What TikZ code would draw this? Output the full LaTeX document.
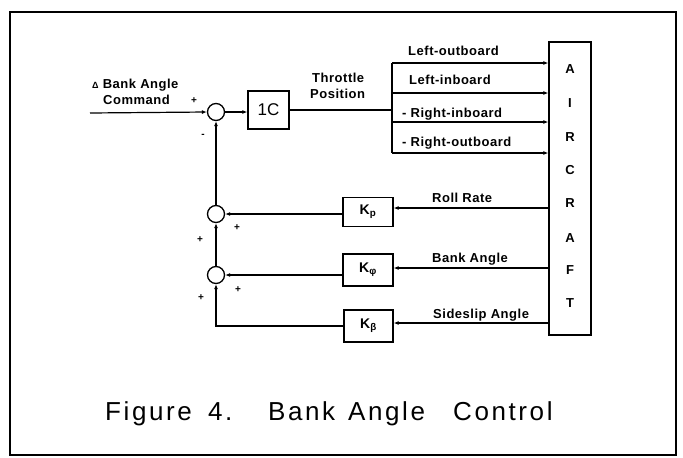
\documentclass[tikz,border=0pt]{standalone}
\usepackage{fontspec}
\setmainfont{Liberation Sans}
\newfontfamily\labfont[LetterSpace=4]{Liberation Sans}
\newfontfamily\capfont[LetterSpace=10]{Liberation Sans}
\usetikzlibrary{arrows.meta}
\begin{document}
\begin{tikzpicture}[x=1pt,y=-1pt,
  lab/.style={font=\labfont\bfseries\fontsize{13}{15}\selectfont, inner sep=0pt},
  captxt/.style={font=\capfont\fontsize{26}{29}\selectfont, inner sep=0pt, anchor=base west},
  pm/.style={font=\bfseries\fontsize{10}{11}\selectfont, inner sep=0pt},
  blk/.style={draw, line width=1.3pt, inner sep=0pt},
  sumc/.style={circle, draw, line width=1.3pt, minimum size=17pt, inner sep=0pt},
  wire/.style={line width=1.2pt},
  arr/.style={wire, -{Latex[length=5pt,width=4pt]}}]
\fill[white] (0,0) rectangle (683,458);
\useasboundingbox (0,0) rectangle (683,458);
% frame
\draw[line width=1.2pt] (10,12) rectangle (676,455);
% blocks
\node[sumc] (c1) at (216,112) {};
\node[sumc] (c2) at (216,214) {};
\node[sumc] (c3) at (216,275) {};
\node[blk, minimum width=41pt, minimum height=38pt, font=\fontsize{17}{19}\selectfont] (ctl) at (268.5,110) {1C};
\node[blk, minimum width=42pt, minimum height=293pt] (air) at (570,188.5) {};
\node[blk, minimum width=50pt, minimum height=29pt, font=\bfseries\fontsize{14}{16}\selectfont] (kp) at (368,212) {K\textsubscript{p}};
\node[blk, minimum width=50pt, minimum height=32pt, font=\bfseries\fontsize{14}{16}\selectfont] (kphi) at (368,270) {K\textsubscript{φ}};
\node[blk, minimum width=49pt, minimum height=32pt, font=\bfseries\fontsize{14}{16}\selectfont] (kbeta) at (368.5,326) {K\textsubscript{β}};
% aircraft letters
\foreach \l/\y [count=\i] in {A/69,I/103,R/137,C/170,R/203,A/238,F/270,T/303}
  \node[lab] (ac\i) at (570,\y) {\l};
% coordinates
\coordinate (in) at (90,113);
\coordinate (b1) at (392,63);
\coordinate (b2) at (392,93);
\coordinate (b3) at (392,122);
\coordinate (b4) at (392,153);
\coordinate (o1) at (549,208);
\coordinate (o2) at (549,268);
\coordinate (o3) at (549,323);
% connectors
\draw[arr] (in) -- (c1.west);
\draw[arr] (c1.east) -- (c1.east -| ctl.west);
\draw[wire] (ctl.east) -- (ctl.east -| b1);
\draw[wire] (b1) -- (b4);
\foreach \i in {1,2,3,4}
  \draw[arr] (b\i) -- (b\i -| air.west);
\draw[arr] (o1) -- (o1 -| kp.east);
\draw[arr] (o2) -- (o2 -| kphi.east);
\draw[arr] (o3) -- (o3 -| kbeta.east);
\draw[arr] (kp.west |- c2) -- (c2.east);
\draw[arr] (kphi.west |- c3) -- (c3.east);
\draw[arr] (kbeta.west) -| (c3.south);
\draw[arr] (c3.north) -- (c2.south);
\draw[arr] (c2.north) -- (c1.south);
% labels
\node[lab, anchor=base west] (tcmd1) at (92,88) {{\fontsize{9}{10}\selectfont Δ} Bank Angle};
\node[lab, anchor=base west] (tcmd2) at (103,104) {Command};
\node[lab, anchor=base west] (tthr1) at (312,82) {Throttle};
\node[lab, anchor=base west] (tthr2) at (310,98) {Position};
\node[lab, anchor=base west] (tlo) at (408,55) {Left-outboard};
\node[lab, anchor=base west] (tli) at (409,84) {Left-inboard};
\node[lab, anchor=base west] (tri) at (402,117) {- Right-inboard};
\node[lab, anchor=base west] (tro) at (402,146) {- Right-outboard};
\node[lab, anchor=base west] (troll) at (432,202.5) {Roll Rate};
\node[lab, anchor=base west] (tbank) at (432,262) {Bank Angle};
\node[lab, anchor=base west] (tside) at (433,318) {Sideslip Angle};
% signs
\node[pm] (s1) at (194,101) {+};
\node[pm] (s2) at (203,136) {-};
\node[pm] (s3) at (237,228) {+};
\node[pm] (s4) at (200,240) {+};
\node[pm] (s5) at (238,290) {+};
\node[pm] (s6) at (201,298) {+};
% caption
\node[captxt] (f1) at (105,420) {Figure};
\node[captxt] (f2) at (208,420) {4.};
\node[captxt] (f3) at (268,420) {Bank};
\node[captxt] (f4) at (348,420) {Angle};
\node[captxt] (f5) at (453,420) {Control};
\end{tikzpicture}
\end{document}
